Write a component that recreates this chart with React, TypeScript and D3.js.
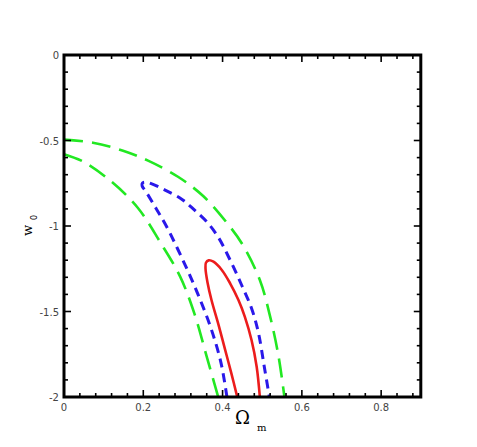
import React from "react";
import * as d3 from "d3";

// Contour data (Omega_m, w0)
const green2Outer: [number, number][] = [
  [0.0, -0.495], [0.073, -0.513], [0.149, -0.56], [0.212, -0.618], [0.2875, -0.712],
  [0.351, -0.825], [0.411, -0.982], [0.451, -1.111], [0.494, -1.316], [0.52, -1.53],
  [0.541, -1.76], [0.556, -2.0],
];
const green2Inner: [number, number][] = [
  [0.0, -0.58], [0.049, -0.624], [0.12, -0.741], [0.187, -0.896], [0.242, -1.092],
  [0.293, -1.296], [0.33, -1.52], [0.36, -1.764], [0.389, -2.0],
];
const blueContour: [number, number][] = [
  [0.411, -2.0], [0.396, -1.8], [0.371, -1.6], [0.338, -1.4], [0.3, -1.2],
  [0.258, -1.0], [0.233, -0.9], [0.207, -0.8], [0.197, -0.765], [0.198, -0.748],
  [0.207, -0.744], [0.22, -0.752], [0.255, -0.79], [0.297, -0.843], [0.326, -0.9],
  [0.36, -0.975], [0.389, -1.065], [0.419, -1.199], [0.448, -1.345], [0.473, -1.481],
  [0.49, -1.62], [0.505, -1.82], [0.518, -2.0],
];
const redContour: [number, number][] = [
  [0.437, -2.0], [0.422, -1.86], [0.406, -1.72], [0.39, -1.58], [0.372, -1.433],
  [0.362, -1.33], [0.357, -1.25], [0.358, -1.215], [0.365, -1.201], [0.377, -1.209],
  [0.398, -1.257], [0.419, -1.335], [0.44, -1.433], [0.456, -1.53], [0.473, -1.667],
  [0.486, -1.823], [0.494, -2.0],
];

const xMajorTicks = [0, 0.2, 0.4, 0.6, 0.8];
const xTickLabels = ["0", "0.2", "0.4", "0.6", "0.8"];
const yMajorTicks = [0, -0.5, -1, -1.5, -2];
const yTickLabels = ["0", "-0.5", "-1", "-1.5", "-2"];

const W = 477;
const H = 447;
const left = 64, right = 420.8, top = 55, bottom = 397;

export default function App() {
  const x = d3.scaleLinear().domain([0, 0.9]).range([left, right]);
  const y = d3.scaleLinear().domain([0, -2]).range([top, bottom]);
  const line = d3
    .line<[number, number]>()
    .x((d) => x(d[0]))
    .y((d) => y(d[1]))
    .curve(d3.curveCatmullRom.alpha(0.5));

  const xMinor = d3.range(0, 0.9001, 0.04).filter((v) => v <= 0.9);
  const yMinor = d3.range(0, -2.0001, -0.1);
  const isMajorX = (v: number) => xMajorTicks.some((m) => Math.abs(m - v) < 1e-6);
  const isMajorY = (v: number) => yMajorTicks.some((m) => Math.abs(m - v) < 1e-6);
  const majLen = 7, minLen = 4;

  return (
    <svg width={W} height={H} style={{ position: "absolute", left: 0, top: 0 }}>
      <rect x={0} y={0} width={W} height={H} fill="#fff" />
      <g fill="none" strokeLinecap="butt" strokeLinejoin="round">
        <path d={line(green2Outer) || ""} stroke="#22e822" strokeWidth={2.6} strokeDasharray="19,9" />
        <path d={line(green2Inner) || ""} stroke="#22e822" strokeWidth={2.6} strokeDasharray="19,9" />
        <path d={line(blueContour) || ""} stroke="#2a18ea" strokeWidth={3} strokeDasharray="9,6" />
        <path d={line(redContour) || ""} stroke="#ec1c1c" strokeWidth={2.6} />
      </g>
      {/* ticks */}
      <g stroke="#000" strokeWidth={1.6}>
        {xMinor.map((v, i) => {
          const L = isMajorX(v) ? majLen : minLen;
          return (
            <g key={"xt" + i}>
              <line x1={x(v)} x2={x(v)} y1={bottom} y2={bottom - L} />
              <line x1={x(v)} x2={x(v)} y1={top} y2={top + L} />
            </g>
          );
        })}
        {yMinor.map((v, i) => {
          const L = isMajorY(v) ? majLen : minLen;
          return (
            <g key={"yt" + i}>
              <line x1={left} x2={left + L} y1={y(v)} y2={y(v)} />
              <line x1={right} x2={right - L} y1={y(v)} y2={y(v)} />
            </g>
          );
        })}
      </g>
      <rect x={left} y={top} width={right - left} height={bottom - top} fill="none" stroke="#000" strokeWidth={3} />
      {/* tick labels */}
      <g fontFamily="DejaVu Sans, sans-serif" fontSize={10} fill="#444">
        {xMajorTicks.map((v, i) => (
          <text key={"xl" + i} x={x(v)} y={bottom + 14} textAnchor="middle">
            {xTickLabels[i]}
          </text>
        ))}
        {yMajorTicks.map((v, i) => (
          <text key={"yl" + i} x={left - 5} y={y(v) + 4} textAnchor="end">
            {yTickLabels[i]}
          </text>
        ))}
      </g>
      {/* axis titles */}
      <text x={235} y={424} fontFamily="DejaVu Serif, serif" fontSize={18} fill="#000">
        Ω
      </text>
      <text x={257} y={431} fontFamily="DejaVu Serif, serif" fontSize={10} fill="#000">
        m
      </text>
      <g transform="translate(32,236) rotate(-90)">
        <text x={0} y={0} fontFamily="DejaVu Serif, serif" fontSize={13} fill="#000">
          w
        </text>
        <text x={16} y={5} fontFamily="DejaVu Sans, sans-serif" fontSize={8} fill="#000">
          0
        </text>
      </g>
    </svg>
  );
}
